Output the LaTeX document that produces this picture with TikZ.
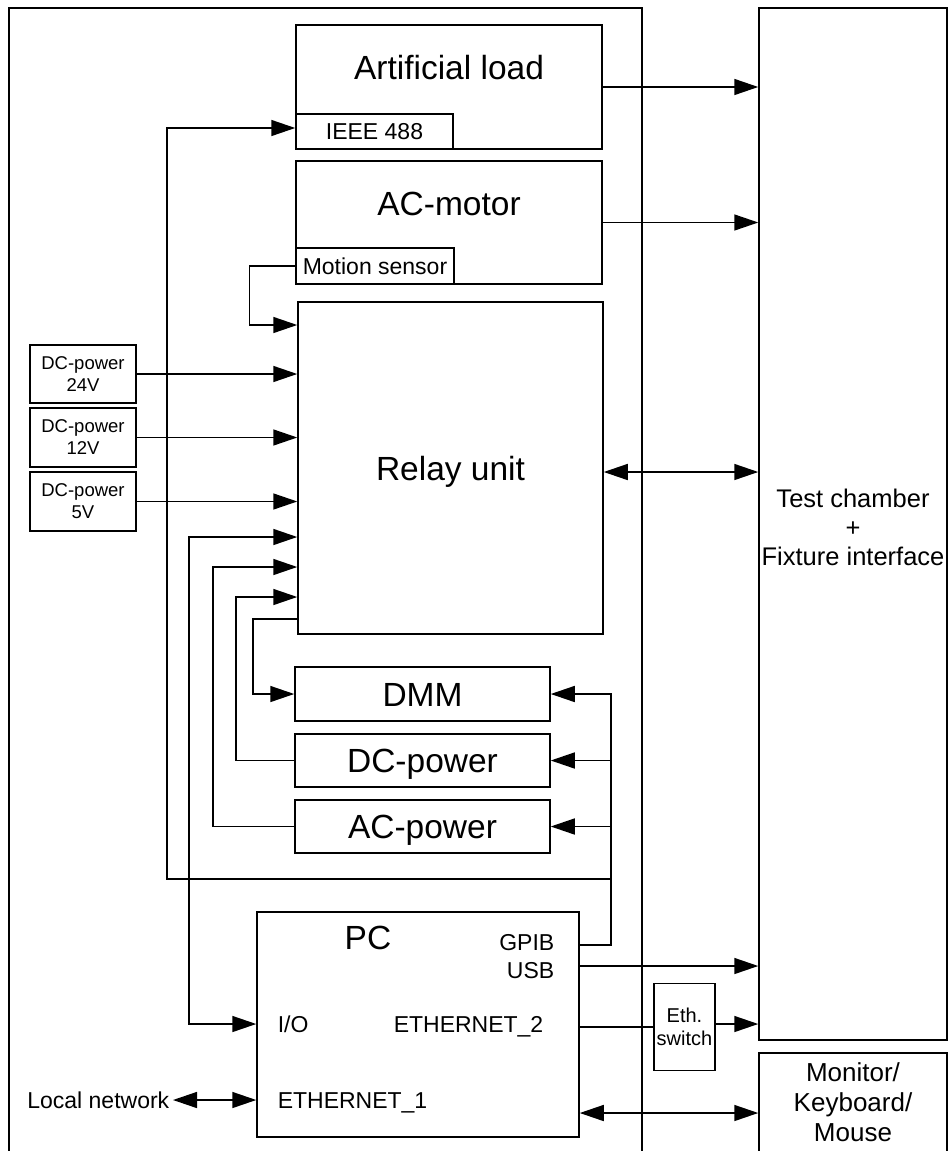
\documentclass[tikz,border=0pt]{standalone}
\usepackage{fontspec}
\setmainfont{Liberation Sans}
\usetikzlibrary{arrows.meta,positioning}

\tikzset{
  box/.style={draw, inner sep=0pt, align=center},
  big/.style={font=\fontsize{33.5}{40}\selectfont, inner sep=0pt, text height=24pt, text depth=0pt},
  lbl/.style={font=\fontsize{23}{27}\selectfont, inner sep=0pt, text height=16.5pt, text depth=0pt},
  small/.style={font=\fontsize{18.5}{22}\selectfont},
  arr/.style={-{Triangle[length=24pt,width=16pt]}},
  biarr/.style={{Triangle[length=24pt,width=16pt]}-{Triangle[length=24pt,width=16pt]}}
}

\begin{document}
\begin{tikzpicture}[x=1pt, y=-1pt, line width=1.5pt]
\useasboundingbox (0,0) rectangle (948,1151);
\clip (0,0) rectangle (948,1151);
% Cabinet
    \draw (9,1170) -- (9,8) -- (642,8) -- (642,1170);
% Outside the cabinet
    \node[box, minimum width=188pt, minimum height=1032pt] (chamber) at (853,524) {};
    \node[align=center, font=\fontsize{25.5}{29}\selectfont] (chamberlabel) at (853,527) {Test chamber\\+\\Fixture interface};
    \node[box, minimum width=188pt, minimum height=110pt] (monitor) at (853,1108) {};
    \node[align=center, font=\fontsize{26}{30}\selectfont] (monitorlabel) at (853,1102) {Monitor/\\Keyboard/\\Mouse};
    \node[box, minimum width=61pt, minimum height=87pt, font=\fontsize{20}{23}\selectfont] (ethsw) at (684.5,1027) {Eth.\\switch};
% Instruments
    \node[box, minimum width=306pt, minimum height=124pt] (artload) at (449,87) {};
    \node[big] (artlabel) at (449,67.5) {Artificial load};
    \node[box, lbl, minimum width=157pt, minimum height=35pt] (ieee) at (374.5,131.5) {IEEE 488};
    \node[box, minimum width=306pt, minimum height=123pt] (acmotor) at (449,222.5) {};
    \node[big] (motorlabel) at (449,203.5) {AC-motor};
    \node[box, lbl, minimum width=158pt, minimum height=36pt] (motion) at (375,266) {Motion sensor};
    \node[box, big, minimum width=305pt, minimum height=332pt] (relay) at (450.5,468) {Relay unit};
    \node[box, small, minimum width=106pt, minimum height=58pt] (dc24) at (83,374) {DC-power\\24V};
    \node[box, small, minimum width=106pt, minimum height=59pt] (dc12) at (83,437.5) {DC-power\\12V};
    \node[box, small, minimum width=106pt, minimum height=59pt] (dc5) at (83,501.5) {DC-power\\5V};
    \node[box, big, minimum width=255pt, minimum height=54pt] (dmm) at (422.5,694) {DMM};
    \node[box, big, minimum width=255pt, minimum height=53pt] (dcpow) at (422.5,760.5) {DC-power};
    \node[box, big, minimum width=255pt, minimum height=53pt] (acpow) at (422.5,826.5) {AC-power};
% PC
    \node[box, minimum width=322pt, minimum height=225pt] (pc) at (418,1024.5) {};
    \node[big] (pclabel) at (368,937) {PC};
    \node[lbl, anchor=east] (gpib) at (555,942) {GPIB};
    \node[lbl, anchor=east] (usb) at (555,970) {USB};
    \node[lbl, anchor=west] (io) at (277,1024) {I/O};
    \node[lbl, anchor=west] (eth2) at (393,1024) {ETHERNET\_2};
    \node[lbl, anchor=west] (eth1) at (277,1100) {ETHERNET\_1};
    \node[lbl, anchor=east] (localnet) at (170,1100) {Local network};
% To the test chamber
    \draw[arr] (artload.east) -- (artload.east -| chamber.west);
    \draw[arr] (acmotor.east) -- (acmotor.east -| chamber.west);
    \draw[biarr] (relay.east |- 0,472) -- (chamber.west |- 0,472);
    \draw[arr] (pc.east |- 0,966) -- (chamber.west |- 0,966);
    \draw (pc.east |- 0,1027) -- (ethsw.west |- 0,1027);
    \draw[arr] (ethsw.east |- 0,1024) -- (chamber.west |- 0,1024);
    \draw[biarr] (pc.east |- 0,1113) -- (monitor.west |- 0,1113);
    \draw[biarr] ([xshift=3pt]localnet.east) -- (pc.west |- localnet.east);
% GPIB bus
    \coordinate (bus) at (611,879);
    \draw[arr] (pc.east |- 0,945) -| (bus |- dmm.east) -- (dmm.east);
    \draw[arr] (bus |- dcpow.east) -- (dcpow.east);
    \draw[arr] (bus |- acpow.east) -- (acpow.east);
    \draw[arr] (bus) -| (167,128) -- (ieee.west |- 0,128);
% Into the relay unit
    \draw[arr] (motion.west) -- ++(-46,0) |- (relay.west |- 0,325);
    \draw[arr] (dc24.east) -- (dc24.east -| relay.west);
    \draw[arr] (dc12.east) -- (dc12.east -| relay.west);
    \draw[arr] (dc5.east) -- (dc5.east -| relay.west);
    \draw[biarr] (pc.west |- io) -| (189,537) -- (relay.west |- 0,537);
    \draw[arr] (acpow.west) -| (213,567) -- (relay.west |- 0,567);
    \draw[arr] (dcpow.west) -| (236,597) -- (relay.west |- 0,597);
    \draw[arr] (relay.west |- 0,619) -| (253,694) -- (dmm.west);
\end{tikzpicture}
\end{document}
